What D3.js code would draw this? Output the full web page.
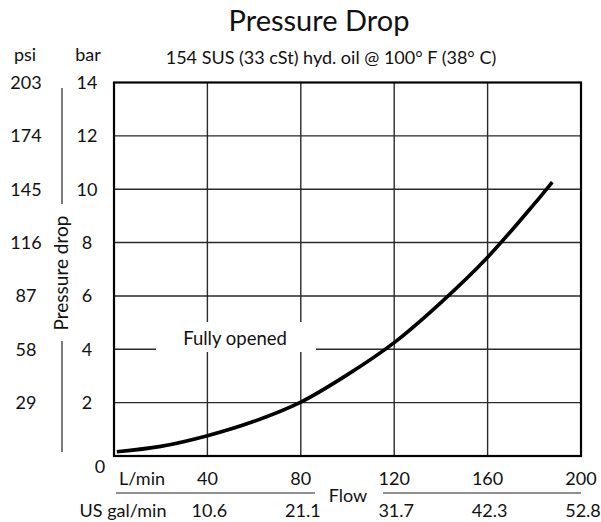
<!DOCTYPE html>
<html>
<head>
<meta charset="utf-8">
<script src="https://cdn.jsdelivr.net/npm/d3@7"></script>
<style>
  html, body { margin: 0; padding: 0; background: #fff; }
  svg { display: block; }
  text { font-family: Lato, "Open Sans", sans-serif; fill: #111; }
</style>
</head>
<body>
<svg id="chart" width="601" height="522"></svg>
<script>
// ---- data ----
const flowTicks = [40, 80, 120, 160, 200];
const galLabels = ["10.6", "21.1", "31.7", "42.3", "52.8"];
const barTicks = [2, 4, 6, 8, 10, 12, 14];
const psiLabels = ["29", "58", "87", "116", "145", "174", "203"];
const curveFlow = [1.2, 20, 40, 60, 80, 100, 120, 140, 160, 180, 187.7];
const curveBar  = [0.16, 0.36, 0.76, 1.3, 2.02, 3.05, 4.25, 5.75, 7.45, 9.45, 10.27];

// ---- layout ----
const svg = d3.select("#chart");
const x = d3.scaleLinear().domain([0, 200]).range([114, 581]);
const y = d3.scaleLinear().domain([0, 14]).range([456, 82.5]);
const FS = 18;

// gridlines
const g = svg.append("g");
g.selectAll("line.v").data(flowTicks.slice(0, -1)).join("line")
  .attr("x1", d => x(d)).attr("x2", d => x(d))
  .attr("y1", y(0)).attr("y2", y(14))
  .attr("stroke", "#2a2a2a").attr("stroke-width", 1.4);
g.selectAll("line.h").data(barTicks.slice(0, -1)).join("line")
  .attr("x1", x(0)).attr("x2", x(200))
  .attr("y1", d => y(d)).attr("y2", d => y(d))
  .attr("stroke", "#2a2a2a").attr("stroke-width", 1.4);

// label box (covers grid)
svg.append("rect")
  .attr("x", 156).attr("y", 322).attr("width", 160).attr("height", 30)
  .attr("fill", "#fff");
svg.append("text").attr("x", 235).attr("y", 345)
  .attr("text-anchor", "middle").attr("font-size", 18.5).text("Fully opened");

// frame
svg.append("rect")
  .attr("x", x(0)).attr("y", y(14))
  .attr("width", x(200) - x(0)).attr("height", y(0) - y(14))
  .attr("fill", "none").attr("stroke", "#000").attr("stroke-width", 2.2);

// curve
const pts = curveFlow.map((f, i) => [f, curveBar[i]]);
svg.append("path")
  .attr("d", d3.line().x(d => x(d[0])).y(d => y(d[1])).curve(d3.curveCatmullRom)(pts))
  .attr("fill", "none").attr("stroke", "#000").attr("stroke-width", 3.6);

// title & subtitle
svg.append("text").attr("x", 319).attr("y", 31).attr("text-anchor", "middle")
  .attr("font-size", 29).text("Pressure Drop");
svg.append("text").attr("x", 331).attr("y", 64).attr("text-anchor", "middle")
  .attr("font-size", 18).text("154 SUS (33 cSt) hyd. oil @ 100° F (38° C)");

// unit headers
svg.append("text").attr("x", 25).attr("y", 61).attr("text-anchor", "middle")
  .attr("font-size", FS).text("psi");
svg.append("text").attr("x", 88).attr("y", 61).attr("text-anchor", "middle")
  .attr("font-size", FS).text("bar");

// left labels
svg.selectAll("text.bar").data(barTicks).join("text")
  .attr("x", 87).attr("y", d => y(d) + 6.5).attr("text-anchor", "middle")
  .attr("font-size", FS).text(d => d);
svg.selectAll("text.psi").data(barTicks).join("text")
  .attr("x", 26).attr("y", d => y(d) + 6.5).attr("text-anchor", "middle")
  .attr("font-size", FS).text((d, i) => psiLabels[i]);
svg.append("text").attr("x", 100).attr("y", 473).attr("text-anchor", "middle")
  .attr("font-size", FS).text("0");

// vertical axis title with line
svg.append("line").attr("x1", 62).attr("x2", 62).attr("y1", 88).attr("y2", 204)
  .attr("stroke", "#222").attr("stroke-width", 1.2);
svg.append("line").attr("x1", 62).attr("x2", 62).attr("y1", 341).attr("y2", 452)
  .attr("stroke", "#222").attr("stroke-width", 1.2);
svg.append("text").attr("transform", "translate(68,273) rotate(-90)")
  .attr("text-anchor", "middle").attr("font-size", 19).text("Pressure drop");

// bottom labels
svg.append("text").attr("x", 142).attr("y", 485).attr("text-anchor", "middle")
  .attr("font-size", FS).text("L/min");
svg.selectAll("text.flow").data(flowTicks).join("text")
  .attr("x", d => x(d)).attr("y", 485).attr("text-anchor", "middle")
  .attr("font-size", FS).text(d => d);
svg.append("line").attr("x1", 116).attr("x2", 315).attr("y1", 493).attr("y2", 493)
  .attr("stroke", "#222").attr("stroke-width", 1.2);
svg.append("line").attr("x1", 383).attr("x2", 581).attr("y1", 493).attr("y2", 493)
  .attr("stroke", "#222").attr("stroke-width", 1.2);
svg.append("text").attr("x", 348).attr("y", 502).attr("text-anchor", "middle")
  .attr("font-size", FS).text("Flow");
svg.append("text").attr("x", 123).attr("y", 517).attr("text-anchor", "middle")
  .attr("font-size", FS).text("US gal/min");
svg.selectAll("text.gal").data(flowTicks).join("text")
  .attr("x", d => x(d) + 2).attr("y", 517).attr("text-anchor", "middle")
  .attr("font-size", FS).text((d, i) => galLabels[i]);
</script>
</body>
</html>
